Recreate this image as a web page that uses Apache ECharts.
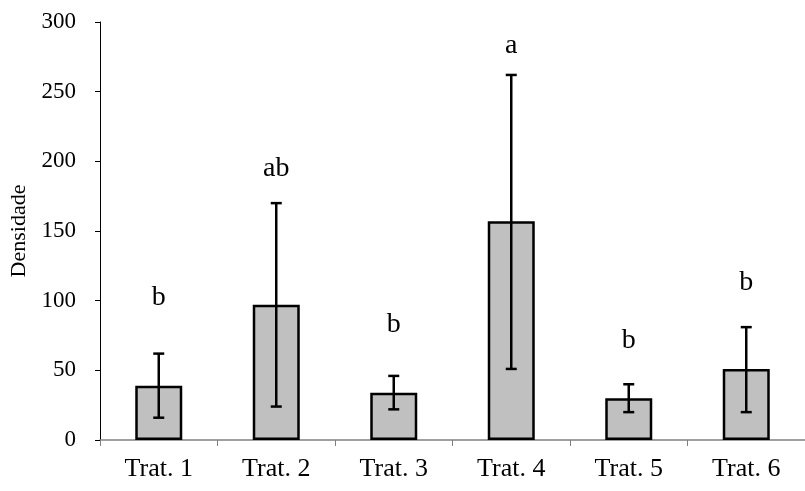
<!DOCTYPE html>
<html>
<head>
<meta charset="utf-8">
<script src="https://cdn.jsdelivr.net/npm/echarts@6/dist/echarts.min.js"></script>
<style>html,body{margin:0;padding:0;background:#fff}#c{width:805px;height:491px}</style>
</head>
<body>
<div id="c"></div>
<script>
var categories = ["Trat. 1", "Trat. 2", "Trat. 3", "Trat. 4", "Trat. 5", "Trat. 6"];
var means = [39, 97, 34, 157, 30, 51];
var errLow = [16, 24, 22, 51, 20, 20];
var errHigh = [62, 170, 46, 262, 40, 81];
var letters = ["b", "ab", "b", "a", "b", "b"];
var letterPos = [102, 195, 83, 283, 71, 113];
var yTicks = [0, 50, 100, 150, 200, 250, 300];

var chart = echarts.init(document.getElementById('c'), null, {renderer: 'canvas'});
var font = 'Liberation Serif';
chart.setOption({
  animation: false,
  grid: {left: 99.6, right: -7.4, top: 22, bottom: 51},
  xAxis: {
    type: 'category',
    data: categories,
    axisLine: {lineStyle: {color: '#808080', width: 1.5}},
    axisTick: {show: true, length: 6, lineStyle: {color: '#808080'}},
    axisLabel: {color: '#000', fontFamily: font, fontSize: 26, margin: 16}
  },
  yAxis: {
    type: 'value', min: yTicks[0], max: yTicks[yTicks.length - 1], interval: 50,
    name: 'Densidade', nameLocation: 'middle', nameGap: 70,
    nameTextStyle: {color: '#000', fontFamily: font, fontSize: 22},
    axisLine: {show: true, lineStyle: {color: '#000', width: 1}},
    axisTick: {show: true, length: 5, lineStyle: {color: '#000'}},
    axisLabel: {color: '#000', fontFamily: font, fontSize: 23, margin: 24},
    splitLine: {show: false}
  },
  series: [
    {
      type: 'bar', data: means, barWidth: '40%',
      itemStyle: {color: '#c0c0c0', borderColor: '#000', borderWidth: 2.5}
    },
    {
      type: 'custom',
      data: categories.map(function (c, i) { return [i, errLow[i], errHigh[i]]; }),
      renderItem: function (params, api) {
        var x = api.coord([api.value(0), 0])[0];
        var lo = api.coord([api.value(0), api.value(1)])[1];
        var hi = api.coord([api.value(0), api.value(2)])[1];
        var w = 5.5;
        var st = {stroke: '#000', lineWidth: 2.5};
        return {type: 'group', children: [
          {type: 'line', shape: {x1: x, y1: lo, x2: x, y2: hi}, style: st},
          {type: 'line', shape: {x1: x - w, y1: lo, x2: x + w, y2: lo}, style: st},
          {type: 'line', shape: {x1: x - w, y1: hi, x2: x + w, y2: hi}, style: st}
        ]};
      },
      z: 5
    },
    {
      type: 'custom',
      data: categories.map(function (c, i) { return [i, letterPos[i]]; }),
      renderItem: function (params, api) {
        var p = api.coord([api.value(0), api.value(1)]);
        return {type: 'text', x: p[0], y: p[1], style: {
          text: letters[params.dataIndex], fill: '#000', font: '28px "Liberation Serif"',
          align: 'center', verticalAlign: 'middle'
        }};
      }
    }
  ]
});
</script>
</body>
</html>
